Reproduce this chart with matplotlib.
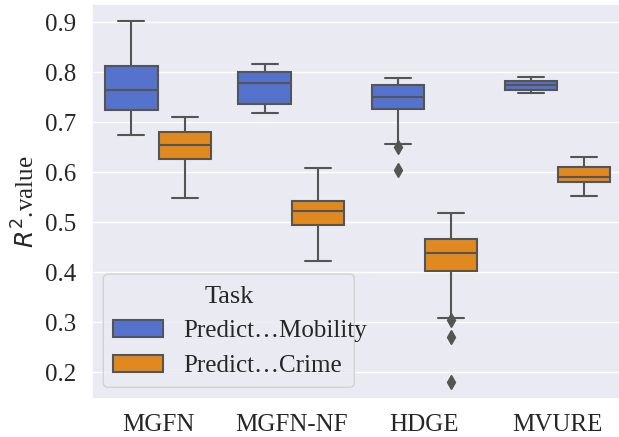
import matplotlib
matplotlib.use("Agg")
import matplotlib.pyplot as plt
import matplotlib.patches as mpatches
import seaborn as sns

sns.set_theme(style="darkgrid")
plt.rcParams['font.family'] = ['Liberation Serif', 'DejaVu Serif']

categories = ["MGFN", "MGFN-NF", "HDGE", "MVURE"]
tasks = ["Predict\u2026Mobility", "Predict\u2026Crime"]
palette = ["royalblue", "darkorange"]
legend_title = "Task"

# box statistics: [lower whisker, Q1, median, Q3, upper whisker]
mobility_stats = [
    [0.675, 0.725, 0.765, 0.813, 0.903],
    [0.719, 0.737, 0.778, 0.801, 0.817],
    [0.657, 0.726, 0.750, 0.775, 0.789],
    [0.759, 0.765, 0.774, 0.782, 0.790],
]
mobility_fliers = [[], [], [0.651, 0.604], []]
crime_stats = [
    [0.548, 0.627, 0.655, 0.681, 0.711],
    [0.423, 0.495, 0.523, 0.543, 0.609],
    [0.309, 0.403, 0.439, 0.467, 0.518],
    [0.553, 0.580, 0.591, 0.611, 0.631],
]
crime_fliers = [[], [], [0.305, 0.271, 0.181], []]

W, H = 619, 437
fig = plt.figure(figsize=(W / 100, H / 100), dpi=100)
ax = fig.add_axes([91.5 / W, (H - 399) / H, (624 - 91.5) / W, (399 - 4) / H])

gray = "#555555"
width = 0.392
colors = [sns.desaturate(c, 0.75) for c in palette]

for h, (stats, fliers) in enumerate([(mobility_stats, mobility_fliers), (crime_stats, crime_fliers)]):
    bxp = []
    for s, f in zip(stats, fliers):
        bxp.append(dict(whislo=s[0], q1=s[1], med=s[2], q3=s[3], whishi=s[4], fliers=f))
    pos = [i + (h - 0.5) * 0.4 for i in range(len(categories))]
    ax.bxp(bxp, positions=pos, widths=width, patch_artist=True, manage_ticks=False,
           capwidths=width * 0.5,
           boxprops=dict(facecolor=colors[h], edgecolor=gray, linewidth=1.5),
           whiskerprops=dict(color=gray, linewidth=1.5),
           capprops=dict(color=gray, linewidth=1.5),
           medianprops=dict(color=gray, linewidth=1.5),
           flierprops=dict(marker="d", markerfacecolor=gray, markeredgecolor=gray,
                           markersize=7.5, linestyle="none"))

ax.set_xlim(-0.5, len(categories) - 0.5)
ax.set_ylim(0.1467, 0.9367)
ax.set_xticks(range(len(categories)))
ax.set_xticklabels(categories)
ax.set_yticks([0.2, 0.3, 0.4, 0.5, 0.6, 0.7, 0.8, 0.9])
ax.tick_params(axis="both", length=0)
ax.tick_params(axis="x", labelsize=18, pad=10.5)
ax.tick_params(axis="y", labelsize=18, pad=10.8)
ax.set_ylabel(r"$R^2$.value", fontsize=18)
ax.grid(axis="x", visible=False)

# legend (frame drawn separately, narrower than the text as in the reference)
handles = [mpatches.Patch(facecolor=colors[i], edgecolor=gray, linewidth=1.5, label=tasks[i])
           for i in range(2)]
leg = ax.legend(handles=handles, loc="lower left", fontsize=18, frameon=False,
                bbox_to_anchor=(11.5 / 532.5, 11.7 / 395), borderaxespad=0)
fs_px = 18 * 100 / 72
frame = mpatches.FancyBboxPatch((103.3 / W, 1 - 387.3 / H), (354.3 - 103.3) / W, (387.3 - 274) / H,
                                boxstyle="round,pad=0,rounding_size=%f" % (0.2 * fs_px / W),
                                mutation_aspect=W / H,
                                transform=fig.transFigure, facecolor="#EAEAF2", alpha=0.8,
                                edgecolor="0.8", linewidth=1.0, zorder=4.5)
ax.add_artist(frame)
fig.text(229 / W, 1 - 303.3 / H, legend_title, ha="center", va="baseline", fontsize=19, zorder=6)

fig.savefig("out.png", dpi=100)
